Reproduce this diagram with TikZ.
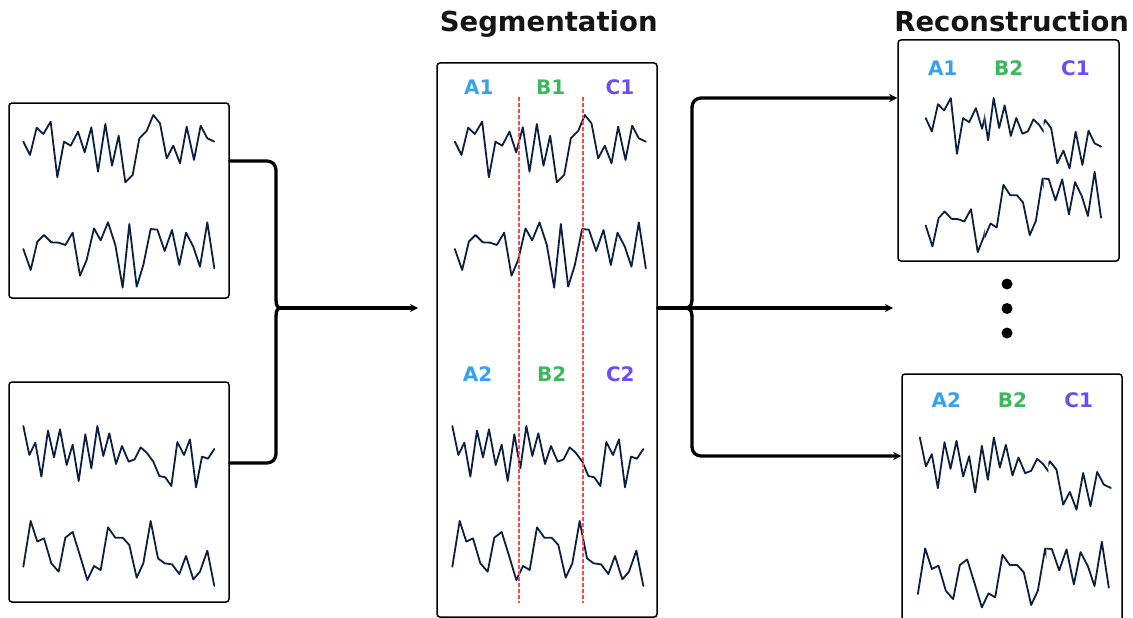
\documentclass[tikz,border=0pt]{standalone}
\usepackage{fontspec}
\setmainfont{DejaVu Sans}
\usetikzlibrary{arrows.meta}
\definecolor{ser}{HTML}{0B1F40}
\definecolor{ca}{HTML}{36A2EB}
\definecolor{cb}{HTML}{3CB85C}
\definecolor{cc}{HTML}{6A4DF5}
\definecolor{dshc}{HTML}{FF4545}
\definecolor{ttl}{HTML}{151515}

\newcommand\SerA{\begin{scope}[shift={(0,95)},scale=1/3]\draw[ts] (70,140) -- (90,180) -- (110,98) -- (130,117) -- (152,80) -- (172,247) -- (192,140) -- (212,152) -- (234,110) -- (254,172) -- (274,97) -- (294,230) -- (316,87) -- (336,212) -- (356,122) -- (376,262) -- (398,240) -- (418,130) -- (440,108) -- (460,60) -- (480,85) -- (500,190) -- (520,152) -- (540,205) -- (560,95) -- (582,195) -- (602,92) -- (622,130) -- (643,140);\end{scope}}
\newcommand\SerB{\begin{scope}[shift={(0,95)},scale=1/3]\draw[ts] (70,462) -- (92,525) -- (112,440) -- (132,420) -- (154,442) -- (176,443) -- (196,450) -- (218,413) -- (240,542) -- (260,495) -- (282,400) -- (302,436) -- (324,382) -- (346,450) -- (368,578) -- (388,387) -- (410,575) -- (430,510) -- (452,402) -- (472,404) -- (494,468) -- (516,405) -- (538,510) -- (558,413) -- (580,455) -- (600,515) -- (622,382) -- (643,520);\end{scope}}
\newcommand\SerC{\begin{scope}[shift={(0,370)},scale=1/3]\draw[ts] (70,168) -- (88,255) -- (106,218) -- (124,320) -- (144,182) -- (162,262) -- (180,178) -- (200,285) -- (218,224) -- (236,333) -- (256,193) -- (274,295) -- (292,168) -- (310,258) -- (328,190) -- (348,282) -- (366,228) -- (386,275) -- (404,268) -- (422,232) -- (440,248) -- (460,275) -- (478,318) -- (496,322) -- (514,348) -- (532,216) -- (552,255) -- (570,208) -- (588,352) -- (606,260) -- (624,266) -- (643,237);\end{scope}}
\newcommand\SerD{\begin{scope}[shift={(0,370)},scale=1/3]\draw[ts] (70,590) -- (92,453) -- (112,515) -- (132,505) -- (154,580) -- (176,605) -- (196,503) -- (218,486) -- (240,557) -- (262,630) -- (282,588) -- (302,600) -- (324,472) -- (346,503) -- (368,503) -- (388,525) -- (410,623) -- (430,580) -- (452,453) -- (474,565) -- (494,580) -- (516,583) -- (538,612) -- (558,558) -- (580,628) -- (600,605) -- (622,542) -- (643,648);\end{scope}}
% clipped, shifted segment of a series
\newcommand\tsseg[4]{\begin{scope}\clip (#1,-100) rectangle (#2,800);\begin{scope}[shift={(0,#3)}]#4\end{scope}\end{scope}}

\begin{document}
\begin{tikzpicture}[x=1pt,y=-1pt,
  ts/.style={draw=ser, line width=1.8pt, line join=round, line cap=round},
  box/.style={draw=black, line width=1.5pt, rounded corners=3pt, inner sep=0pt},
  conn/.style={draw=black, line width=3.3pt, line join=round, line cap=round},
  arr/.style={-{Stealth[length=8pt,width=8pt]}},
  lab/.style={font=\bfseries\fontsize{20}{24}\selectfont, anchor=base, inner sep=0pt},
  ttlnode/.style={font=\bfseries\fontsize{27.5}{32}\selectfont, text=ttl, anchor=base, inner sep=0pt},
  dsh/.style={draw=dshc, line width=1.4pt, dash pattern=on 3.5pt off 2.5pt},
  dot/.style={circle, fill=black, inner sep=0pt, minimum size=11pt}]
\useasboundingbox (0,0) rectangle (1133,618);
\clip (0,0) rectangle (1133,618);
\fill[white] (0,0) rectangle (1133,618);

% boxes
\node[box, minimum width=220pt, minimum height=195pt] (in1) at (119,200.5) {};
\node[box, minimum width=220pt, minimum height=220pt] (in2) at (119,492) {};
\node[box, minimum width=220pt, minimum height=554pt] (seg) at (547,340) {};
\node[box, minimum width=221pt, minimum height=221pt] (rec1) at (1008.5,150.5) {};
\node[box, minimum width=220pt, minimum height=266pt] (rec2) at (1012,507) {};

% titles
\node[ttlnode] (tseg) at (548.7,31.7) {Segmentation};
\node[ttlnode] (trec) at (1011.7,32) {Reconstruction};

% input series
\SerA \SerB \SerC \SerD

% segmentation series
\begin{scope}[shift={(431.5,0)}] \SerA \SerB \end{scope}
\begin{scope}[shift={(429,0)}] \SerC \SerD \end{scope}
\draw[dsh] (519,97) -- (519,603);
\draw[dsh] (583,97) -- (583,603);

\node[lab, text=ca] (sa1) at (478.8,95) {A1};
\node[lab, text=cb] (sb1) at (550.7,95) {B1};
\node[lab, text=cc] (sc1) at (620,95) {C1};
\node[lab, text=ca] (sa2) at (477.5,381.7) {A2};
\node[lab, text=cb] (sb2) at (551.7,381.7) {B2};
\node[lab, text=cc] (sc2) at (620.3,381.7) {C2};

% reconstruction 1: A1 B2 C1
\begin{scope}[shift={(904.3,0)}, xscale=0.918]
  \tsseg{-100}{87.5}{-23.5}{\SerA}
  \tsseg{87.5}{151.8}{-328}{\SerC}
  \tsseg{151.8}{400}{5}{\SerA}
  \tsseg{-100}{87.5}{-23.5}{\SerB}
  \tsseg{87.5}{151.8}{-342.5}{\SerD}
  \tsseg{151.8}{400}{-50.6}{\SerB}
\end{scope}
\node[lab, text=ca] (ra1) at (942.7,76) {A1};
\node[lab, text=cb] (rb1) at (1008.8,76) {B2};
\node[lab, text=cc] (rc1) at (1075.5,76) {C1};

% reconstruction 2: A2 B2 C1
\begin{scope}[shift={(896.5,0)}]
  \tsseg{-100}{151.8}{11.5}{\SerC}
  \tsseg{151.8}{400}{346.3}{\SerA}
\end{scope}
\begin{scope}[shift={(894.5,0)}]
  \tsseg{-100}{151.8}{27.4}{\SerD}
  \tsseg{151.8}{400}{319.4}{\SerB}
\end{scope}
\node[lab, text=ca] (ra2) at (946.3,407.3) {A2};
\node[lab, text=cb] (rb2) at (1012.5,407.3) {B2};
\node[lab, text=cc] (rc2) at (1078.7,407.3) {C1};

% ellipsis dots
\node[dot] (d1) at (1007,284) {};
\node[dot] (d2) at (1007,308.5) {};
\node[dot] (d3) at (1007,333) {};

% left connectors
\coordinate (jl) at (281,308);
\coordinate (al) at (418,308);
\draw[conn, rounded corners=9pt] ([yshift=39.5pt]in1.east) -- (276,161) -- (276,300);
\draw[conn] (276,300) .. controls (276,306) and (278,308) .. (jl);
\draw[conn, rounded corners=9pt] ([yshift=29pt]in2.east) -- (276,463) -- (276,316);
\draw[conn] (276,316) .. controls (276,310) and (278,308) .. (jl);
\draw[conn, arr] (jl) -- (al);

% right connectors
\coordinate (jr) at (685,308);
\coordinate (am) at (893,308);
\draw[conn, arr] ([yshift=32pt]seg.east) -- (am);
\draw[conn] (jr) .. controls (689,308) and (692,306) .. (692,300);
\draw[conn, rounded corners=9pt, arr] (692,300) -- (692,98) -- ([yshift=52.5pt]rec1.west);
\draw[conn] (jr) .. controls (689,308) and (692,310) .. (692,316);
\draw[conn, rounded corners=9pt, arr] (692,316) -- (692,456) -- ([yshift=51pt]rec2.west);
\end{tikzpicture}
\end{document}
